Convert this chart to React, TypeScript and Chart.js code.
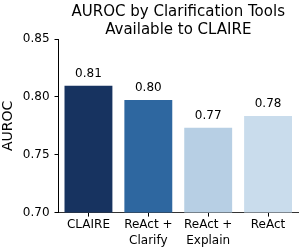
import React, { useEffect, useRef } from "react";
import { Chart, registerables } from "chart.js";

Chart.register(...registerables);

const categories: string[][] = [["CLAIRE"], ["ReAct +", "Clarify"], ["ReAct +", "Explain"], ["ReAct"]];
const aurocValues: number[] = [0.8095, 0.7972, 0.7733, 0.7835];
const valueLabels: string[] = ["0.81", "0.80", "0.77", "0.78"];
const barColors: string[] = ["#173360", "#2e67a0", "#b7cfe4", "#c9dcec"];
const yTicks: number[] = [0.7, 0.75, 0.8, 0.85];

const FONT = "'DejaVu Sans', sans-serif";

const valueLabelPlugin = {
  id: "valueLabels",
  afterDatasetsDraw(chart: any) {
    const ctx = chart.ctx;
    const meta = chart.getDatasetMeta(0);
    ctx.save();
    ctx.font = `12px ${FONT}`;
    ctx.fillStyle = "#000";
    ctx.textAlign = "center";
    ctx.textBaseline = "bottom";
    meta.data.forEach((bar: any, i: number) => {
      ctx.fillText(valueLabels[i], bar.x, bar.y - 6);
    });
    ctx.restore();
  },
};

export default function App() {
  const ref = useRef<HTMLCanvasElement>(null);
  useEffect(() => {
    if (!ref.current) return;
    const chart = new Chart(ref.current, {
      type: "bar",
      data: {
        labels: categories,
        datasets: [
          {
            data: aurocValues,
            backgroundColor: barColors,
            barPercentage: 0.8,
            categoryPercentage: 1,
          },
        ],
      },
      options: {
        animation: false,
        responsive: false,
        devicePixelRatio: 1,
        layout: { padding: { top: 3, right: 6, bottom: 1, left: 0 } },
        plugins: {
          legend: { display: false },
          tooltip: { enabled: false },
          title: {
            display: true,
            text: ["AUROC by Clarification Tools", "Available to CLAIRE"],
            color: "#000",
            font: { family: FONT, size: 15, weight: "normal", lineHeight: 1.2 },
            fullSize: false,
            padding: { top: 0, bottom: 0 },
          },
        },
        scales: {
          x: {
            grid: {
              display: true,
              drawOnChartArea: false,
              drawTicks: true,
              tickLength: 4,
              offset: false,
              color: "#000",
            },
            border: { display: true, color: "#333", width: 1 },
            ticks: {
              color: "#000",
              font: { family: FONT, size: 12, lineHeight: 1.35 },
              padding: 0,
              maxRotation: 0,
              autoSkip: false,
            },
          },
          y: {
            min: 0.7,
            max: 0.85,
            afterBuildTicks: (axis: any) => {
              axis.ticks = yTicks.map((v) => ({ value: v }));
            },
            grid: {
              display: true,
              drawOnChartArea: false,
              drawTicks: true,
              tickLength: 4,
              color: "#000",
            },
            border: { display: true, color: "#000", width: 1 },
            ticks: {
              color: "#000",
              font: { family: FONT, size: 12 },
              padding: 5,
              callback: (v: any) => Number(v).toFixed(2),
            },
            title: {
              display: true,
              text: "AUROC",
              color: "#000",
              font: { family: FONT, size: 14 },
              padding: { top: 0, bottom: 1 },
            },
          },
        },
      },
      plugins: [valueLabelPlugin],
    });
    return () => chart.destroy();
  }, []);
  return (
    <div style={{ position: "fixed", left: 0, top: 0, width: 304, height: 250, background: "#fff" }}>
      <canvas ref={ref} width={304} height={250} style={{ width: 304, height: 250 }} />
    </div>
  );
}
